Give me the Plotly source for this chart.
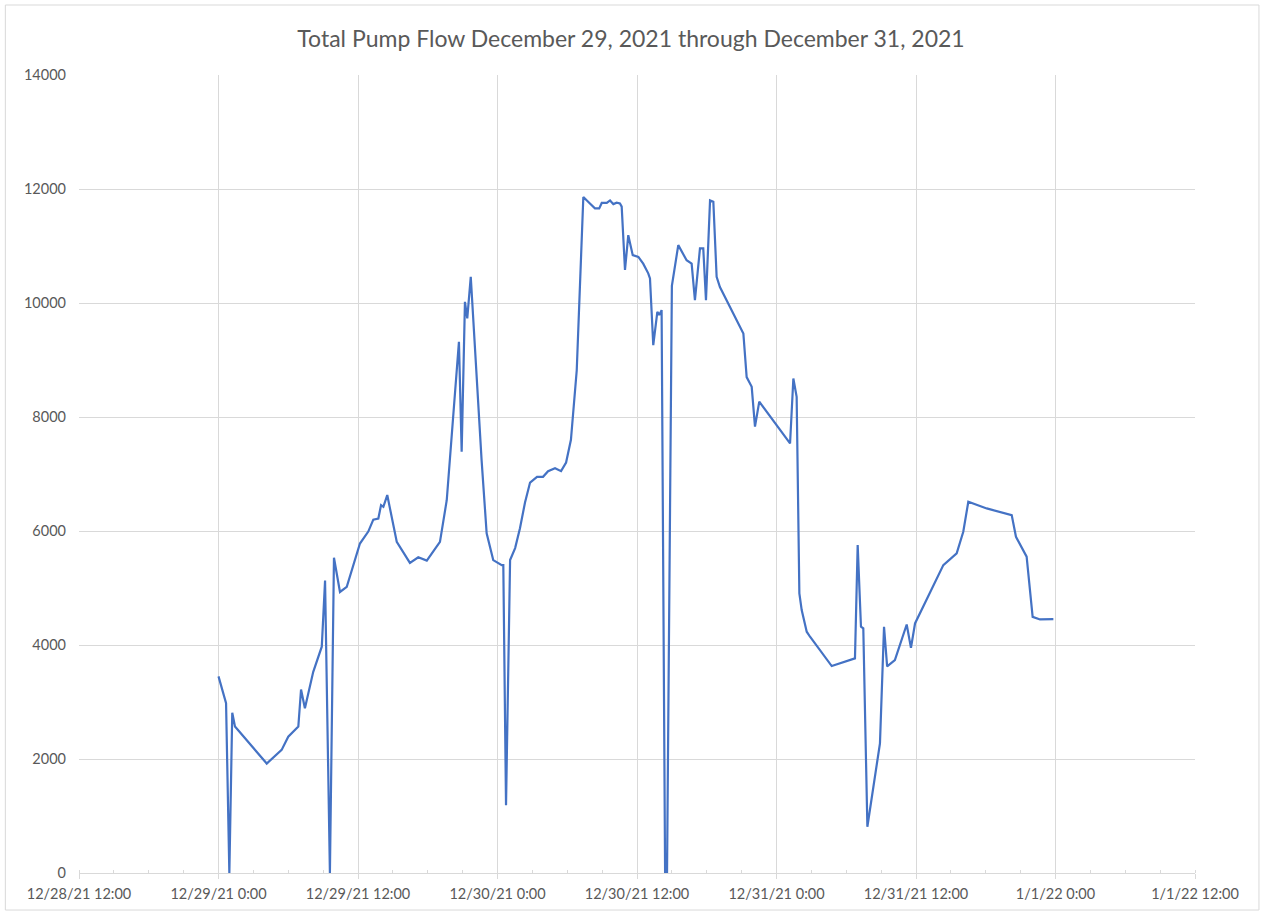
import plotly.graph_objects as go

title_text = "Total Pump Flow December 29, 2021 through December 31, 2021"

times = [
    "2021-12-29 00:00", "2021-12-29 00:39", "2021-12-29 00:56", "2021-12-29 01:11", "2021-12-29 01:25",
    "2021-12-29 04:09", "2021-12-29 05:26", "2021-12-29 06:00", "2021-12-29 06:52", "2021-12-29 07:06",
    "2021-12-29 07:26", "2021-12-29 08:09", "2021-12-29 08:53", "2021-12-29 09:10", "2021-12-29 09:35",
    "2021-12-29 09:56", "2021-12-29 10:27", "2021-12-29 11:02", "2021-12-29 12:10", "2021-12-29 12:53",
    "2021-12-29 13:19", "2021-12-29 13:45", "2021-12-29 13:59", "2021-12-29 14:11", "2021-12-29 14:31",
    "2021-12-29 15:20", "2021-12-29 16:28", "2021-12-29 17:11", "2021-12-29 17:55", "2021-12-29 19:03",
    "2021-12-29 19:38", "2021-12-29 20:41", "2021-12-29 20:55", "2021-12-29 21:12", "2021-12-29 21:24",
    "2021-12-29 21:42", "2021-12-29 22:38", "2021-12-29 23:04", "2021-12-29 23:38", "2021-12-30 00:22",
    "2021-12-30 00:30", "2021-12-30 00:44", "2021-12-30 01:05", "2021-12-30 01:31", "2021-12-30 01:56",
    "2021-12-30 02:22", "2021-12-30 02:48", "2021-12-30 03:24", "2021-12-30 03:55", "2021-12-30 04:21",
    "2021-12-30 04:57", "2021-12-30 05:28", "2021-12-30 05:54", "2021-12-30 06:19", "2021-12-30 06:49",
    "2021-12-30 07:23", "2021-12-30 07:57", "2021-12-30 08:23", "2021-12-30 08:45", "2021-12-30 08:58",
    "2021-12-30 09:24", "2021-12-30 09:41", "2021-12-30 09:58", "2021-12-30 10:15", "2021-12-30 10:32",
    "2021-12-30 10:41", "2021-12-30 10:58", "2021-12-30 11:15", "2021-12-30 11:38", "2021-12-30 12:07",
    "2021-12-30 12:32", "2021-12-30 12:58", "2021-12-30 13:07", "2021-12-30 13:24", "2021-12-30 13:45",
    "2021-12-30 13:55", "2021-12-30 14:07", "2021-12-30 14:25", "2021-12-30 14:35", "2021-12-30 15:00",
    "2021-12-30 15:33", "2021-12-30 16:16", "2021-12-30 16:42", "2021-12-30 16:59", "2021-12-30 17:25",
    "2021-12-30 17:42", "2021-12-30 17:56", "2021-12-30 18:17", "2021-12-30 18:34", "2021-12-30 18:51",
    "2021-12-30 19:08", "2021-12-30 21:09", "2021-12-30 21:26", "2021-12-30 21:52", "2021-12-30 22:09",
    "2021-12-30 22:31", "2021-12-31 01:10", "2021-12-31 01:27", "2021-12-31 01:44", "2021-12-31 01:58",
    "2021-12-31 02:10", "2021-12-31 02:36", "2021-12-31 02:53", "2021-12-31 04:45", "2021-12-31 06:45",
    "2021-12-31 06:59", "2021-12-31 07:16", "2021-12-31 07:28", "2021-12-31 07:49", "2021-12-31 08:54",
    "2021-12-31 09:15", "2021-12-31 09:31", "2021-12-31 10:11", "2021-12-31 11:12", "2021-12-31 11:34",
    "2021-12-31 11:55", "2021-12-31 14:21", "2021-12-31 15:30", "2021-12-31 16:04", "2021-12-31 16:30",
    "2021-12-31 18:05", "2021-12-31 20:14", "2021-12-31 20:36", "2021-12-31 21:23", "2021-12-31 21:31",
    "2021-12-31 22:02", "2021-12-31 22:40", "2021-12-31 23:49",
]

flow = [
    3450, 2980, 0, 2810, 2570,
    1920, 2160, 2390, 2570, 3220,
    2890, 3530, 3970, 5130, 0,
    5530, 4930, 5020, 5780, 5990,
    6200, 6220, 6455, 6425, 6630,
    5810, 5440, 5540, 5480, 5810,
    6540, 9320, 7390, 10020, 9730,
    10460, 7240, 5960, 5490, 5400,
    5400, 1190, 5490, 5700, 6050,
    6500, 6850, 6950, 6950, 7050,
    7100, 7050, 7200, 7600, 8820,
    11860, 11745, 11660, 11660, 11755,
    11755, 11800, 11735, 11760, 11745,
    11690, 10580, 11190, 10840, 10810,
    10690, 10520, 10430, 9260, 9845,
    9790, 9875, 0, 0, 10300,
    11015, 10750, 10690, 10050, 10957,
    10957, 10050, 11800, 11775, 10460,
    10280, 9465, 8700, 8530, 7830,
    8270, 7536, 8676, 8354, 4906,
    4613, 4233, 4145, 3631, 3766,
    5753, 4320, 4291, 812, 2275,
    4320, 3625, 3736, 4360, 3950,
    4378, 5402, 5607, 5986, 6512,
    6396, 6279, 5899, 5578, 5550,
    4494, 4448, 4455,
]

x_tick_vals = [
    "2021-12-28 12:00", "2021-12-29 00:00", "2021-12-29 12:00", "2021-12-30 00:00",
    "2021-12-30 12:00", "2021-12-31 00:00", "2021-12-31 12:00", "2022-01-01 00:00",
    "2022-01-01 12:00",
]
x_tick_text = [
    "12/28/21 12:00", "12/29/21 0:00", "12/29/21 12:00", "12/30/21 0:00",
    "12/30/21 12:00", "12/31/21 0:00", "12/31/21 12:00", "1/1/22 0:00",
    "1/1/22 12:00",
]
y_tick_vals = [0, 2000, 4000, 6000, 8000, 10000, 12000, 14000]
y_tick_text = ["0", "2000", "4000", "6000", "8000", "10000", "12000", "14000"]

font_family = "Lato, 'Open Sans', sans-serif"
grey_text = "#595959"
grid_col = "#d9d9d9"

fig = go.Figure()
fig.add_trace(go.Scatter(
    x=times, y=flow, mode="lines",
    line=dict(color="#4472C4", width=2.2),
    showlegend=False,
))

fig.update_layout(
    width=1262, height=914,
    paper_bgcolor="white", plot_bgcolor="white",
    margin=dict(l=79, r=67, t=75, b=41),
    title=dict(text=title_text, x=0.5, xanchor="center", y=0.957, yanchor="middle",
               font=dict(family=font_family, size=23, color=grey_text)),
    font=dict(family=font_family, size=14, color=grey_text),
    xaxis=dict(
        range=["2021-12-28 12:00", "2022-01-01 12:00"],
        tickmode="array", tickvals=x_tick_vals, ticktext=x_tick_text,
        showgrid=True, gridcolor=grid_col, gridwidth=1,
        showline=True, linecolor=grid_col, linewidth=1,
        ticks="outside", ticklen=5, tickcolor=grid_col,
        tickfont=dict(family=font_family, size=14.5, color=grey_text),
        ticklabelstandoff=3,
        zeroline=False,
        minor=dict(dtick=3 * 3600 * 1000, ticks="inside", ticklen=3, tickcolor=grid_col, showgrid=False),
    ),
    yaxis=dict(
        range=[0, 14000],
        tickmode="array", tickvals=y_tick_vals, ticktext=y_tick_text,
        showgrid=True, gridcolor=grid_col, gridwidth=1,
        showline=False, zeroline=False, ticks="",
        tickfont=dict(family=font_family, size=14.5, color=grey_text),
        ticklabelstandoff=12,
    ),
    shapes=[dict(
        type="rect", xref="paper", yref="paper",
        x0=-0.066, x1=1.0573, y0=-0.0464, y1=1.0877,
        line=dict(color="#d9d9d9", width=1), fillcolor="rgba(0,0,0,0)", layer="below",
    )],
)

fig.write_html("out.html", config={"displayModeBar": False},
               post_script="document.body.style.margin='0';")
